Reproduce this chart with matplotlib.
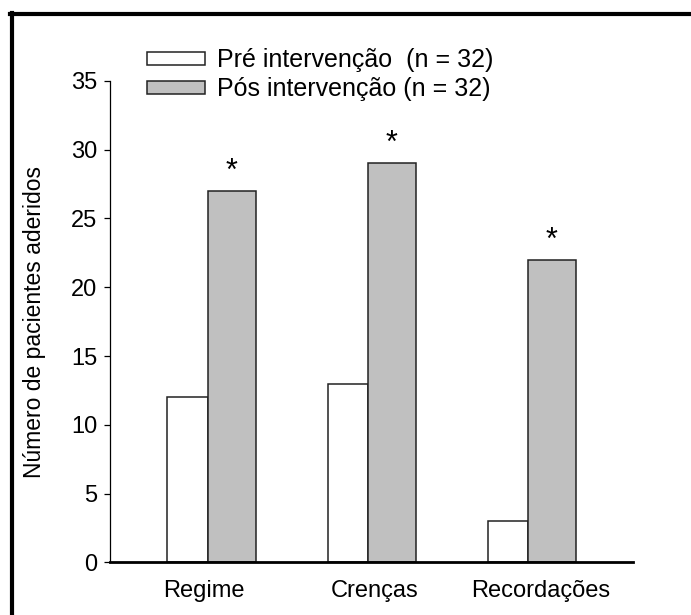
import numpy as np
import matplotlib
matplotlib.use('Agg')
import matplotlib.pyplot as plt
from matplotlib.lines import Line2D

plt.rcParams['font.family'] = ['Liberation Sans', 'DejaVu Sans']

# dados
categorias = ['Regime', 'Crenças', 'Recordações']
pre = [12, 13, 3]
pos = [27, 29, 22]
signif = ['*', '*', '*']
rotulos = ['Pré intervenção  (n = 32)', 'Pós intervenção (n = 32)']

fig = plt.figure(figsize=(6.91, 6.15), dpi=100)
ax = fig.add_axes([0.159, 0.0855, 0.757, 0.783])

x = np.arange(len(categorias))
ax.bar(x, pre, width=-0.25, align='edge', color='white',
       edgecolor='#222222', linewidth=1.1, label=rotulos[0])
ax.bar(x, pos, width=0.3, align='edge', color='#c0c0c0',
       edgecolor='#222222', linewidth=1.1, label=rotulos[1])

# asteriscos
for xi, v, s in zip(x, pos, signif):
    ax.text(xi + 0.15, v + 1.4, s, ha='center', va='center', fontsize=22)

ax.set_xlim(-0.61, 2.658)
ax.set_ylim(0, 35)
ax.set_yticks(np.arange(0, 36, 5))
ax.set_xticks(x + np.array([-0.02, 0.045, 0.08]))
ax.set_xticklabels(categorias)
ax.tick_params(axis='x', length=0, labelsize=17, pad=13)
ax.tick_params(axis='y', length=4, width=0.9, labelsize=17, pad=5, direction='out')
ax.set_ylabel('Número de pacientes aderidos', fontsize=16.5, labelpad=18)

ax.spines['top'].set_visible(False)
ax.spines['right'].set_visible(False)
ax.spines['left'].set_linewidth(0.9)
ax.spines['bottom'].set_linewidth(2)

ax.legend(loc='upper left', bbox_to_anchor=(0.071, 1.068), frameon=False,
          fontsize=18, handlelength=2.3, handleheight=0.45,
          handletextpad=0.5, labelspacing=0.2, borderpad=0, borderaxespad=0)

# moldura (só topo e esquerda)
fig.add_artist(Line2D([0.0145, 1.0], [0.977, 0.977], color='black', linewidth=3,
                      transform=fig.transFigure))
fig.add_artist(Line2D([0.0174, 0.0174], [0.0, 0.979], color='black', linewidth=3,
                      transform=fig.transFigure))

fig.savefig('out.png', dpi=100)
